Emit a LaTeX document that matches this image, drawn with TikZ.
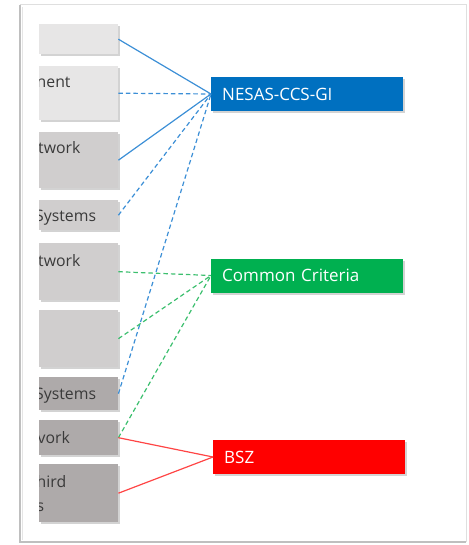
\documentclass[tikz,border=0pt]{standalone}
\usepackage{fontspec}
\setmainfont{Open Sans}
\usetikzlibrary{shadows}
\definecolor{boxA}{HTML}{E7E6E6}
\definecolor{boxB}{HTML}{D0CECE}
\definecolor{boxC}{HTML}{AEAAAA}
\definecolor{txtgray}{HTML}{3A3A3A}
\definecolor{nblue}{HTML}{0070C0}
\definecolor{cgreen}{HTML}{00B050}
\definecolor{bred}{HTML}{FF0000}
\definecolor{lblue}{HTML}{3C8FD6}
\definecolor{lgreen}{HTML}{3CBF6E}
\definecolor{lred}{HTML}{FF4545}
\tikzset{
  lbox/.style={draw=none, minimum width=79pt, inner sep=0pt, anchor=north west,
    drop shadow={shadow xshift=1.5pt, shadow yshift=-1.5pt, opacity=0.35}},
  ltext/.style={anchor=base west, inner sep=0pt, text=txtgray, font=\fontsize{15.8}{18}\selectfont},
  rbox/.style={anchor=west, minimum height=34pt, inner xsep=11pt, inner ysep=0pt,
    text width=170pt, align=left, text=white, font=\fontsize{17}{20}\selectfont,
    drop shadow={shadow xshift=2pt, shadow yshift=-2pt, opacity=0.35}},
  conn/.style={line width=1.2pt},
  dconn/.style={line width=1.2pt, dash pattern=on 4.5pt off 3pt},
}
\begin{document}
\begin{tikzpicture}[x=1pt,y=-1pt]
\useasboundingbox (0,0) rectangle (468,545);
% frame
\draw[gray!25, line width=1pt] (20,5) -- (466,5) -- (466,542);
\draw[gray!50, line width=1.2pt] (20,5) -- (20,542) -- (466,542);
\draw[gray!20, line width=1pt] (22,7) -- (22,540);
% left boxes
\node[lbox, fill=boxA, minimum height=30pt] (b1) at (39,24) {};
\node[lbox, fill=boxA, minimum height=54pt] (b2) at (39,66) {};
\node[lbox, fill=boxB, minimum height=56pt] (b3) at (39,132) {};
\node[lbox, fill=boxB, minimum height=30pt] (b4) at (39,200) {};
\node[lbox, fill=boxB, minimum height=57pt] (b5) at (39,243) {};
\node[lbox, fill=boxB, minimum height=57pt] (b6) at (39,310) {};
\node[lbox, fill=boxC, minimum height=33pt] (b7) at (39,377) {};
\node[lbox, fill=boxC, minimum height=35pt] (b8) at (39,420) {};
\node[lbox, fill=boxC, minimum height=58pt] (b9) at (39,464) {};
\begin{scope}
\clip (39,0) rectangle (118,545);
\node[ltext] (t2) at (36.5,88) {nent};
\node[ltext] (t3) at (38,154) {twork};
\node[ltext] (t4) at (35,221) {Systems};
\node[ltext] (t5) at (38,266) {twork};
\node[ltext] (t7) at (35,399) {Systems};
\node[ltext] (t8) at (37.5,443) {vork};
\node[ltext] (t9a) at (36.5,487) {hird};
\node[ltext] (t9b) at (36.5,511) {s};
\end{scope}
% right boxes
\node[rbox, fill=nblue] (nesas) at (211,94) {NESAS-CCS-GI};
\node[rbox, fill=cgreen] (cc) at (211,275.5) {Common Criteria};
\node[rbox, fill=bred] (bsz) at (213,457) {BSZ};
% connectors
\draw[conn, lblue] (b1.east) -- (nesas.west);
\draw[dconn, lblue] (b2.east) -- (nesas.west);
\draw[conn, lblue] (b3.east) -- (nesas.west);
\draw[dconn, lblue] (b4.east) -- (nesas.west);
\draw[dconn, lblue] (b7.east) -- (nesas.west);
\draw[dconn, lgreen] (b5.east) -- (cc.west);
\draw[dconn, lgreen] (b6.east) -- (cc.west);
\draw[dconn, lgreen] (b8.east) -- (cc.west);
\draw[conn, lred] (b8.east) -- (bsz.west);
\draw[conn, lred] (b9.east) -- (bsz.west);
\end{tikzpicture}
\end{document}
